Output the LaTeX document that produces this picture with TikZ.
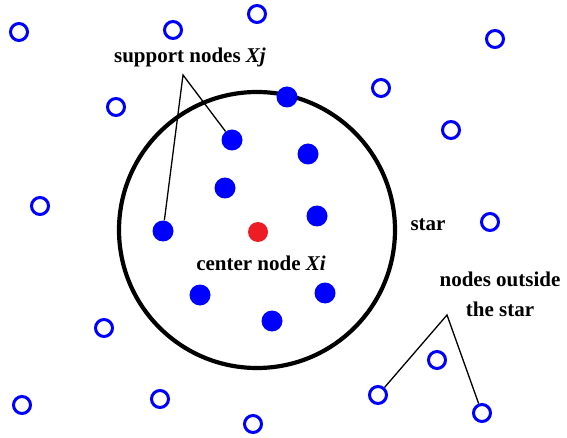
\documentclass[tikz,border=0pt]{standalone}
\usepackage{fontspec}
\setmainfont{Liberation Serif}
\definecolor{nodeBlue}{HTML}{0000FF}
\definecolor{hubRed}{HTML}{EE1C25}

\begin{document}
\begin{tikzpicture}[x=1pt,y=-1pt,
  outside/.style={circle,draw=nodeBlue,line width=3pt,minimum size=17pt,inner sep=0pt},
  support/.style={circle,fill=nodeBlue,minimum size=21pt,inner sep=0pt},
  hub/.style={circle,fill=hubRed,minimum size=20pt,inner sep=0pt},
  lbl/.style={font=\bfseries\fontsize{21}{30}\selectfont,align=center,inner sep=0pt},
  pointer/.style={black,line width=1.3pt}]
\useasboundingbox (0,0) rectangle (567,438);
% the star
\node[circle,draw,line width=4.2pt,minimum size=276pt,inner sep=0pt] (star) at (257,230) {};
% nodes outside the star
\node[outside] (o1) at (19,32) {};
\node[outside] (o2) at (173,30) {};
\node[outside] (o3) at (257,14) {};
\node[outside] (o4) at (495,39) {};
\node[outside] (o5) at (116,107) {};
\node[outside] (o6) at (381,88) {};
\node[outside] (o7) at (451,130) {};
\node[outside] (o8) at (40,206) {};
\node[outside] (o9) at (490,222) {};
\node[outside] (o10) at (104,328) {};
\node[outside] (o11) at (437,360) {};
\node[outside] (o12) at (378,395) {};
\node[outside] (o13) at (482,413) {};
\node[outside] (o14) at (22,405) {};
\node[outside] (o15) at (160,399) {};
\node[outside] (o16) at (253,424) {};
% support nodes
\node[support] (s1) at (287,97) {};
\node[support] (s2) at (232,140) {};
\node[support] (s3) at (308,154) {};
\node[support] (s4) at (225,188) {};
\node[support] (s5) at (317,216) {};
\node[support] (s6) at (163,231) {};
\node[support] (s7) at (200,295) {};
\node[support] (s8) at (325,293) {};
\node[support] (s9) at (272,321) {};
% center node
\node[hub] (xi) at (258,232) {};
% labels
\node[lbl] (supLbl) at (190,57) {support nodes \textit{Xj}};
\node[lbl] (hubLbl) at (261,263) {center node \textit{Xi}};
\node[lbl] (starLbl) at (428,225) {star};
\node[lbl] (outLbl) at (500,294) {nodes outside\\the star};
% pointers
\coordinate (tipS) at (183,75);
\coordinate (tipO) at (447,315);
\draw[pointer] (s6) -- (tipS) -- (s2);
\draw[pointer] (o12) -- (tipO) -- (o13);
\end{tikzpicture}
\end{document}
